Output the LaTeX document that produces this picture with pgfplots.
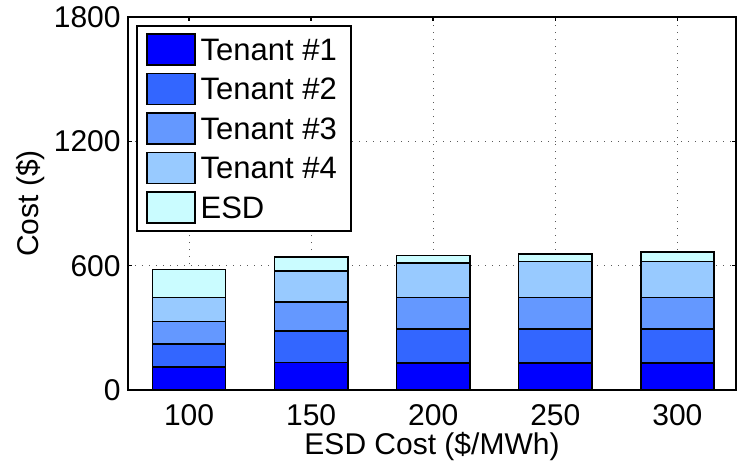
\documentclass[border=0pt]{standalone}
\usepackage{fontspec}
\setmainfont{Liberation Sans}
\usepackage{pgfplots}
\pgfplotsset{compat=1.18}

\definecolor{tenA}{RGB}{0,0,255}
\definecolor{tenB}{RGB}{51,102,255}
\definecolor{tenC}{RGB}{100,152,255}
\definecolor{tenD}{RGB}{152,202,255}
\definecolor{esd}{RGB}{202,252,255}

\newcommand{\chartfont}{\fontsize{15}{18}\selectfont}
\newcommand{\legendfont}{\fontsize{15.5}{18}\selectfont}

\begin{document}
\begin{tikzpicture}
\useasboundingbox (-64pt,-36pt) rectangle (304.5pt,195pt);
\begin{axis}[
  at={(0,0)}, anchor=south west,
  scale only axis,
  width=304pt, height=186.5pt,
  ybar stacked,
  bar width=0.6,
  xmin=0.5, xmax=5.48,
  ymin=0, ymax=1800,
  xtick={1,2,3,4,5},
  xticklabels={100,150,200,250,300},
  ytick={0,600,1200,1800},
  grid=major,
  major grid style={black!65, line width=0.5pt, dash pattern=on 0.5pt off 3pt},
  axis line style={line width=1pt},
  major tick length=2pt,
  tick style={line width=0.8pt, black},
  /pgf/number format/assume math mode=true,
  /pgf/number format/set thousands separator={},
  tick label style={font=\chartfont, inner sep=0pt},
  yticklabel style={anchor=east, xshift=-3.5pt},
  xticklabel style={anchor=north, yshift=-7pt},
  xlabel={ESD Cost (\$/MWh)},
  ylabel={Cost (\$)},
  label style={font=\chartfont, inner sep=0pt},
  xlabel style={at={(axis description cs:0.5,0)}, anchor=north, yshift=-21pt},
  ylabel style={at={(axis description cs:0,0.5)}, anchor=south, yshift=41.5pt},
  every axis plot/.append style={draw=black, line width=0.8pt},
  legend image code/.code={\draw[#1, line width=0.8pt] (0pt,-2.4pt) rectangle (24pt,13.1pt);},
  legend style={
    at={(axis description cs:0,1)}, anchor=north west,
    xshift=4pt, yshift=-4pt,
    draw=black, line width=1pt, fill=white,
    inner xsep=4.5pt, inner ysep=3.5pt,
    row sep=3.5pt,
    cells={anchor=base west},
    nodes={font=\legendfont, inner xsep=2.5pt, inner ysep=0pt},
  },
]
\addplot[fill=tenA] coordinates {(1,111) (2,132) (3,129) (4,129) (5,129)};
\addplot[fill=tenB] coordinates {(1,110) (2,154) (3,165) (4,165) (5,165)};
\addplot[fill=tenC] coordinates {(1,110) (2,138) (3,153) (4,153) (5,153)};
\addplot[fill=tenD] coordinates {(1,116) (2,149) (3,166) (4,174) (5,174)};
\addplot[fill=esd]  coordinates {(1,134) (2,69) (3,36) (4,36) (5,44)};
\legend{Tenant \#1, Tenant \#2, Tenant \#3, Tenant \#4, ESD}
\end{axis}
\end{tikzpicture}
\end{document}
